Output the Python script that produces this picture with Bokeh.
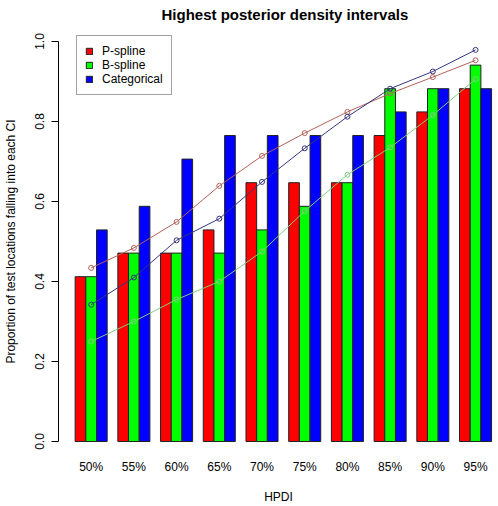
from bokeh.plotting import figure
from bokeh.models import FixedTicker, Legend, LegendItem
from bokeh.embed import file_html
from bokeh.resources import INLINE

# ---- data ----
hpdi = ["50%", "55%", "60%", "65%", "70%", "75%", "80%", "85%", "90%", "95%"]
pspline = [0.412, 0.471, 0.471, 0.529, 0.647, 0.647, 0.647, 0.765, 0.824, 0.882]
bspline = [0.412, 0.471, 0.471, 0.471, 0.529, 0.588, 0.647, 0.882, 0.882, 0.941]
categorical = [0.529, 0.588, 0.706, 0.765, 0.765, 0.765, 0.765, 0.824, 0.882, 0.882]
line_red = [0.434, 0.484, 0.549, 0.639, 0.714, 0.771, 0.824, 0.870, 0.911, 0.953]
line_navy = [0.342, 0.410, 0.503, 0.557, 0.649, 0.733, 0.812, 0.882, 0.925, 0.979]
line_green = [0.250, 0.300, 0.355, 0.400, 0.475, 0.576, 0.667, 0.735, 0.816, 0.906]
y_ticks = [0.0, 0.2, 0.4, 0.6, 0.8, 1.0]
y_tick_labels = ["0.0", "0.2", "0.4", "0.6", "0.8", "1.0"]

FONT = "Liberation Sans"

# R barplot(beside=TRUE) layout: groups of 3 unit-wide bars, 1 unit gap
n = len(hpdi)
centers = [4 * i + 2.5 for i in range(n)]
x_p = [c - 1 for c in centers]
x_b = centers
x_c = [c + 1 for c in centers]

p = figure(width=498, height=506, output_backend="svg", toolbar_location=None,
           x_range=(-0.56, 40.65), y_range=(-0.04, 1.04),
           min_border_left=57, min_border_right=0, min_border_top=22,
           min_border_bottom=44)
p.outline_line_color = None
p.xgrid.visible = False
p.ygrid.visible = False
p.background_fill_color = "white"
p.border_fill_color = "white"

p.title.text = "Highest posterior density intervals"
p.title.align = "left"
p.title.offset = 103
p.title.text_font = FONT
p.title.text_font_size = "15px"
p.title.text_font_style = "bold"
p.title.text_color = "black"
p.title.standoff = 6

r_p = p.vbar(x=x_p, top=pspline, bottom=0, width=1, fill_color="#FF0000", line_color="#222222", line_width=1)
r_b = p.vbar(x=x_b, top=bspline, bottom=0, width=1, fill_color="#00FF00", line_color="#222222", line_width=1)
r_c = p.vbar(x=x_c, top=categorical, bottom=0, width=1, fill_color="#0000FF", line_color="#222222", line_width=1)

for vals, col in [(line_green, "#80D080"), (line_red, "#B5625A"), (line_navy, "#35357F")]:
    p.line(centers, vals, line_color=col, line_width=1)
    p.scatter(centers, vals, size=5, marker="circle", fill_color=None, line_color=col, line_width=1)

# y axis
yax = p.yaxis[0]
yax.ticker = FixedTicker(ticks=y_ticks)
yax.major_label_overrides = {t: l for t, l in zip(y_ticks, y_tick_labels)}
yax.bounds = (0, 1)
yax.major_label_orientation = "vertical"
yax.major_tick_out = 7
yax.major_tick_in = 0
yax.minor_tick_line_color = None
yax.major_label_standoff = 8
yax.axis_label = "Proportion of test locations falling into each CI"
yax.axis_label_standoff = 14
yax.axis_label_text_font = FONT
yax.axis_label_text_font_size = "12px"
yax.axis_label_text_font_style = "normal"
yax.axis_label_text_color = "black"
yax.major_label_text_font = FONT
yax.major_label_text_font_size = "12px"
yax.major_label_text_color = "black"
yax.axis_line_color = "black"
yax.major_tick_line_color = "black"

# x axis: group labels only
xax = p.xaxis[0]
xax.ticker = FixedTicker(ticks=centers)
xax.major_label_overrides = {c: l for c, l in zip(centers, hpdi)}
xax.axis_line_color = None
xax.major_tick_line_color = None
xax.minor_tick_line_color = None
xax.major_tick_out = 0
xax.major_tick_in = 0
xax.major_label_standoff = 2
xax.major_label_text_font = FONT
xax.major_label_text_font_size = "12px"
xax.major_label_text_color = "black"
xax.axis_label = "HPDI"
xax.axis_label_standoff = 13
xax.axis_label_text_font = FONT
xax.axis_label_text_font_size = "12px"
xax.axis_label_text_font_style = "normal"
xax.axis_label_text_color = "black"

legend = Legend(items=[LegendItem(label="P-spline", renderers=[r_p]),
                       LegendItem(label="B-spline", renderers=[r_b]),
                       LegendItem(label="Categorical", renderers=[r_c])],
                location=(18, 362))
legend.border_line_color = "#444444"
legend.border_line_width = 1
legend.background_fill_color = "white"
legend.background_fill_alpha = 1
legend.padding = 8
legend.margin = 0
legend.spacing = 0
legend.glyph_width = 8
legend.glyph_height = 8
legend.label_height = 14
legend.label_standoff = 9
legend.label_text_font = FONT
legend.label_text_font_size = "12px"
legend.label_text_color = "black"
p.add_layout(legend, "center")

open("out.html", "w").write(file_html(p, INLINE))
